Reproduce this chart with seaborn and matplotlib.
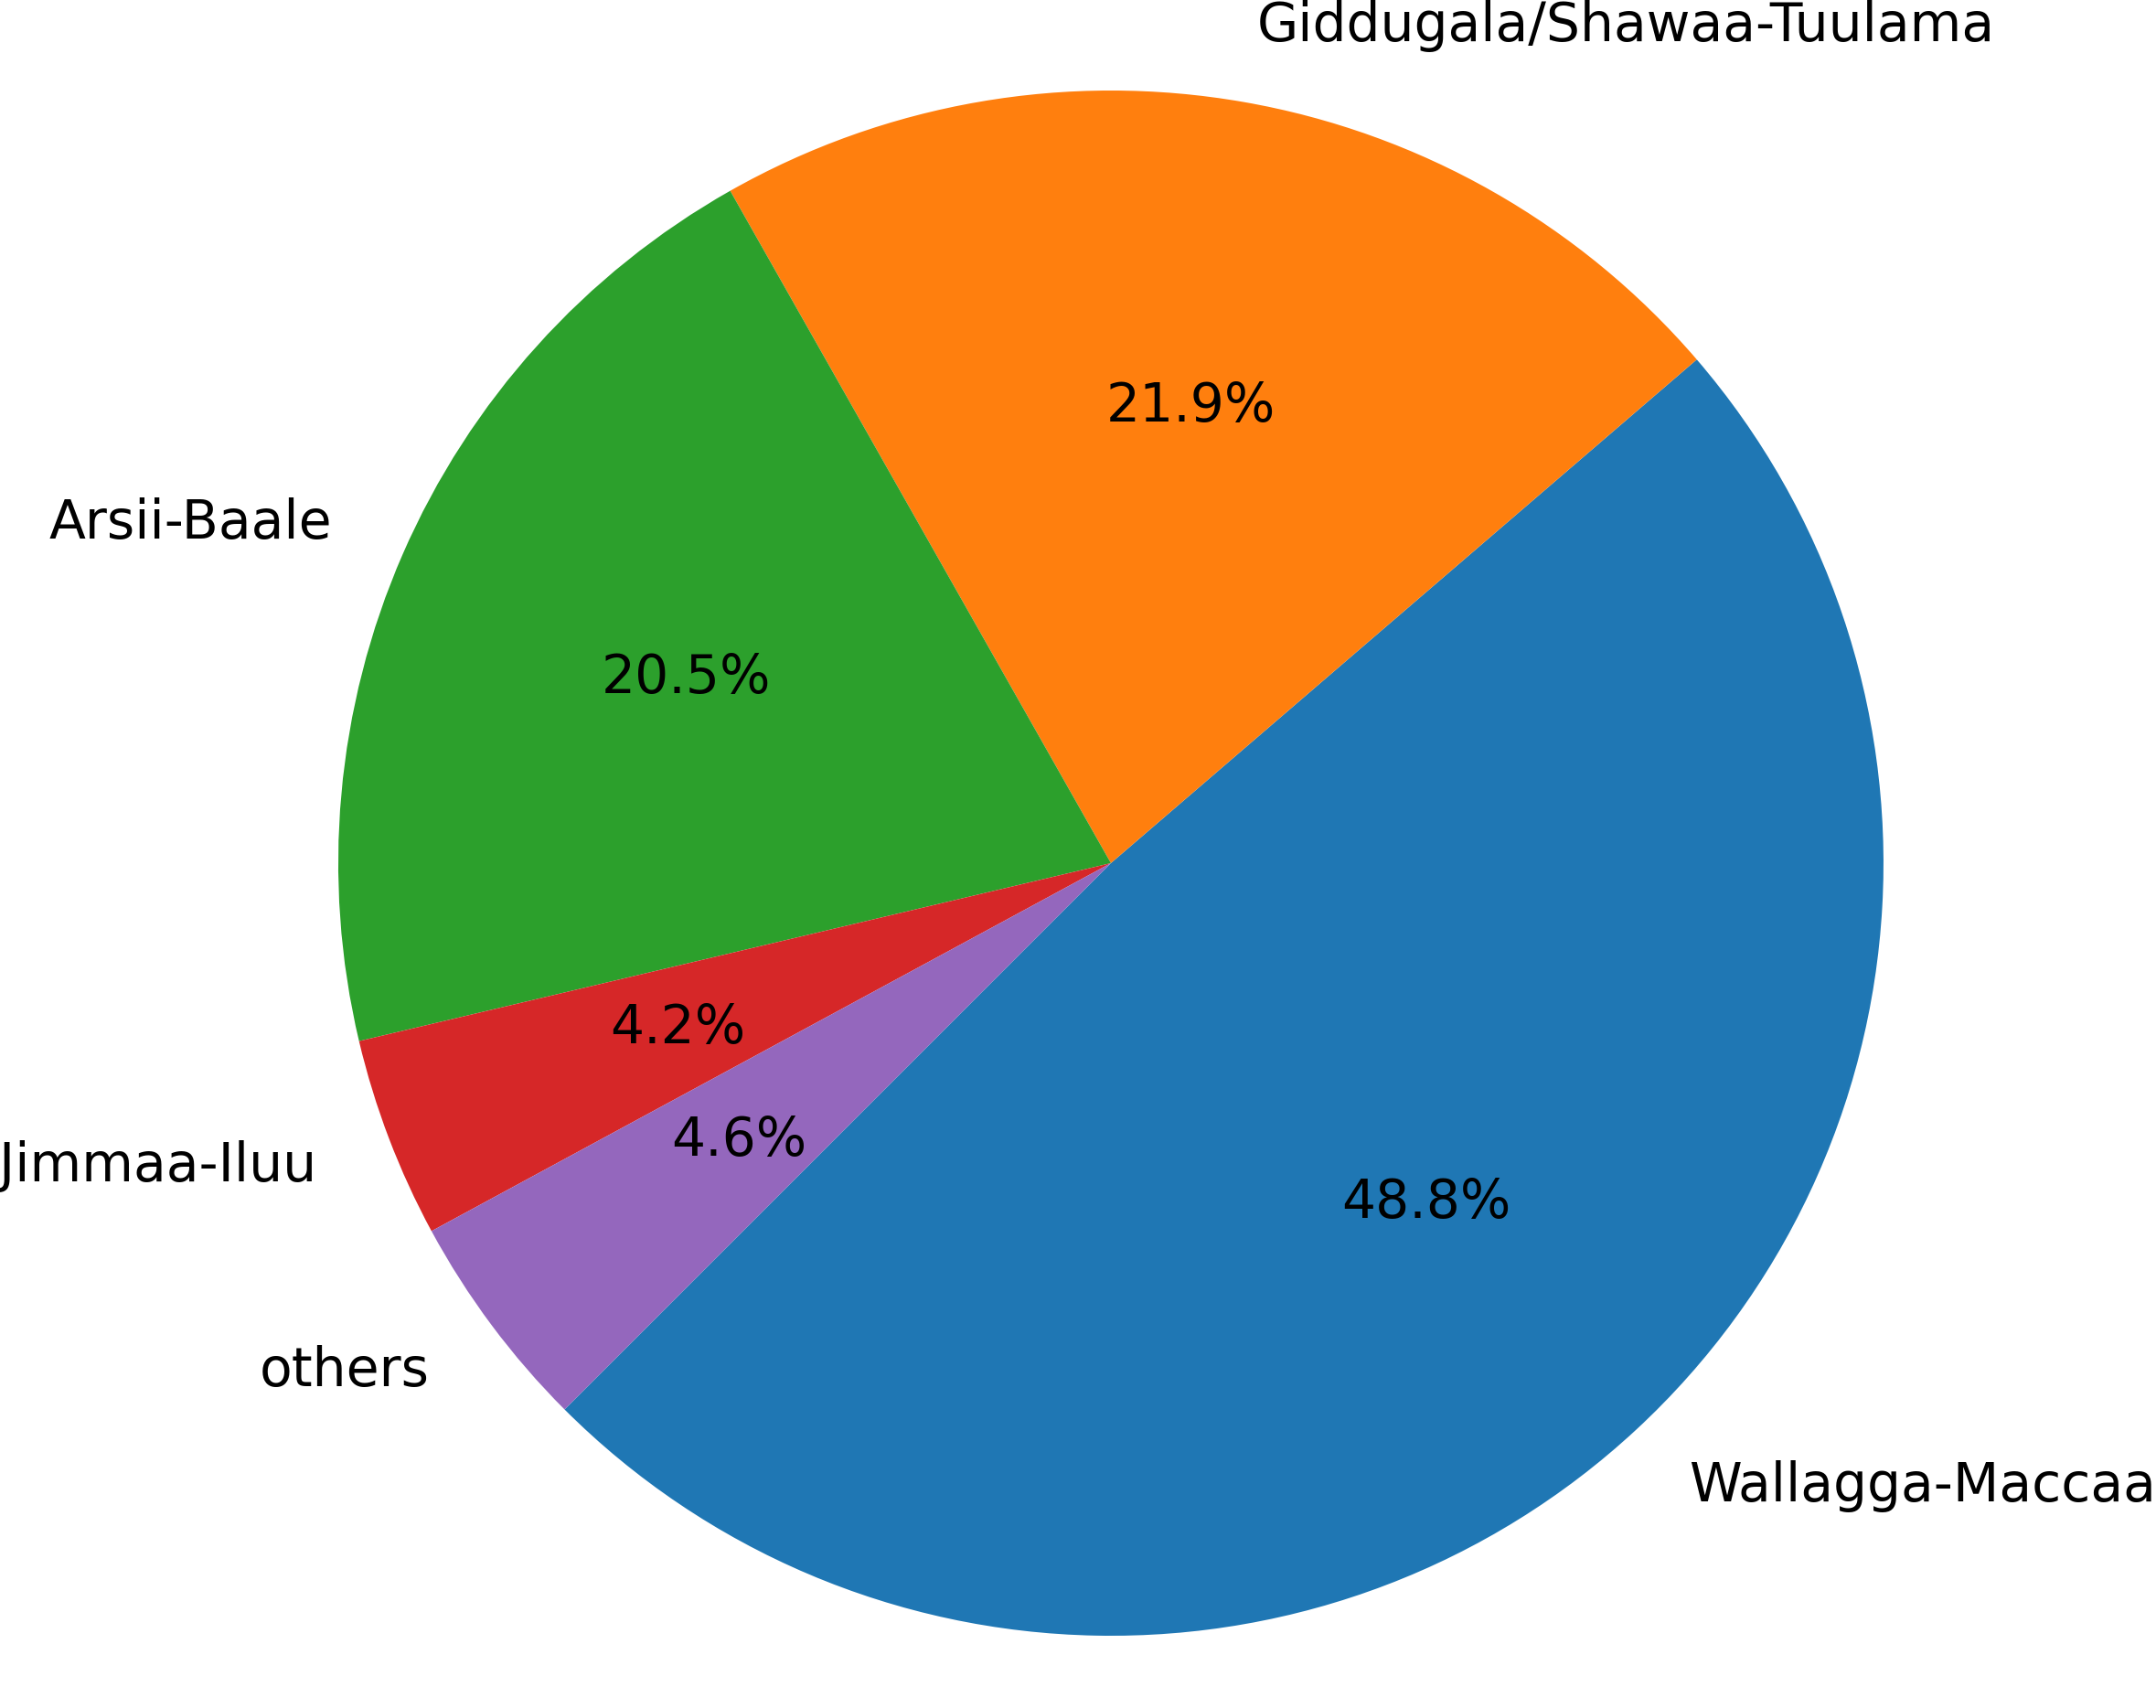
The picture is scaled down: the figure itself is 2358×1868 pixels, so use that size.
import matplotlib
matplotlib.use("Agg")
import matplotlib.pyplot as plt
import seaborn as sns

labels = ["Wallagga-Maccaa", "Giddugala/Shawaa-Tuulama", "Arsii-Baale", "Jimmaa-Iluu", "others"]
shares = [48.8, 21.9, 20.5, 4.2, 4.6]

sns.set_style("white")
plt.rcParams["font.family"] = ["DejaVu Sans"]
plt.rcParams["text.color"] = "black"

colors = sns.color_palette("tab10", len(labels))

fig = plt.figure(figsize=(2358 / 300, 1868 / 300), dpi=300)
ax = fig.add_axes([0.1569, 0.0423, 0.7167, 0.9047])
ax.pie(shares, labels=labels, colors=colors, autopct="%1.1f%%", startangle=-135,
       wedgeprops={"linewidth": 0, "edgecolor": "none"},
       textprops={"fontsize": 14, "color": "black"})
ax.set_xlim(-1, 1)
ax.set_ylim(-1, 1)
ax.set_aspect("auto")
ax.axis("off")
fig.savefig("out.png", dpi=300)
